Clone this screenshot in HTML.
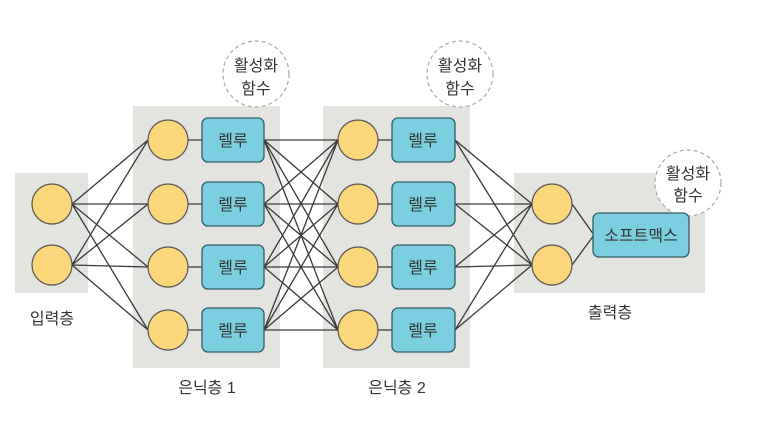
<!DOCTYPE html>
<html><head><meta charset="utf-8"><style>
body{margin:0;background:#fff}
svg text{font-family:"Liberation Sans","Noto Sans CJK KR",sans-serif;fill:#333}
</style></head><body>
<svg width="768" height="416" viewBox="0 0 768 416" xmlns="http://www.w3.org/2000/svg">
<rect x="15" y="173" width="73" height="120" fill="#e3e4df"/>
<rect x="133" y="106" width="147" height="262" fill="#e3e4df"/>
<rect x="323" y="106" width="147" height="262" fill="#e3e4df"/>
<rect x="514" y="173" width="191" height="120" fill="#e3e4df"/>
<g stroke="#3a3a3a" stroke-width="1.3" fill="none">
<path d="M72 204L148 140M72 204L148 204M72 204L148 267M72 204L148 330M72 265L148 140M72 265L148 204M72 265L148 267M72 265L148 330"/>
<path d="M264 140L338 140M264 140L338 204M264 140L338 267M264 140L338 330
M264 204L338 140M264 204L338 204M264 204L338 267M264 204L338 330
M264 267L338 140M264 267L338 204M264 267L338 267M264 267L338 330
M264 330L338 140M264 330L338 204M264 330L338 267M264 330L338 330"/>
<path d="M455 140L532 204M455 140L532 265M455 204L532 204M455 204L532 265M455 267L532 204M455 267L532 265M455 330L532 204M455 330L532 265"/>
<path d="M572 204L594 235M572 265L594 235"/>
<path d="M188 140H202M188 204H202M188 267H202M188 330H202M378 140H392M378 204H392M378 267H392M378 330H392"/>
</g>
<g fill="#fbd67a" stroke="#555" stroke-width="1.2">
<circle cx="52" cy="204" r="20"/><circle cx="52" cy="265" r="20"/>
<circle cx="168" cy="140" r="20"/><circle cx="168" cy="204" r="20"/><circle cx="168" cy="267" r="20"/><circle cx="168" cy="330" r="20"/>
<circle cx="358" cy="140" r="20"/><circle cx="358" cy="204" r="20"/><circle cx="358" cy="267" r="20"/><circle cx="358" cy="330" r="20"/>
<circle cx="552" cy="204" r="20"/><circle cx="552" cy="265" r="20"/>
</g>
<g fill="#fff" stroke="#aaa" stroke-width="1.2" stroke-dasharray="4 3">
<circle cx="256" cy="74" r="33"/><circle cx="460" cy="74" r="33"/><circle cx="688" cy="183" r="33"/>
</g>
<g fill="#7ccfe0" stroke="#2f5d68" stroke-width="1.3">
<rect x="202" y="118" width="62" height="44" rx="6"/><rect x="202" y="182" width="62" height="44" rx="6"/>
<rect x="202" y="245" width="62" height="44" rx="6"/><rect x="202" y="308" width="62" height="44" rx="6"/>
<rect x="392" y="118" width="63" height="44" rx="6"/><rect x="392" y="182" width="63" height="44" rx="6"/>
<rect x="392" y="245" width="63" height="44" rx="6"/><rect x="392" y="308" width="63" height="44" rx="6"/>
<rect x="593" y="213" width="96" height="44" rx="6"/>
</g>
<g font-size="16" text-anchor="middle">
<text x="233" y="146">렐루</text><text x="233" y="210">렐루</text><text x="233" y="273">렐루</text><text x="233" y="336">렐루</text>
<text x="423" y="146">렐루</text><text x="423" y="210">렐루</text><text x="423" y="273">렐루</text><text x="423" y="336">렐루</text>
<text x="641" y="241">소프트맥스</text>
<text x="256" y="71">활성화</text><text x="256" y="94">함수</text>
<text x="460" y="71">활성화</text><text x="460" y="94">함수</text>
<text x="688" y="179">활성화</text><text x="688" y="201">함수</text>
<text x="52" y="324">입력층</text><text x="610" y="318">출력층</text>
<text x="207" y="393">은닉층 1</text><text x="397" y="393">은닉층 2</text>
</g>
</svg>
</body></html>
